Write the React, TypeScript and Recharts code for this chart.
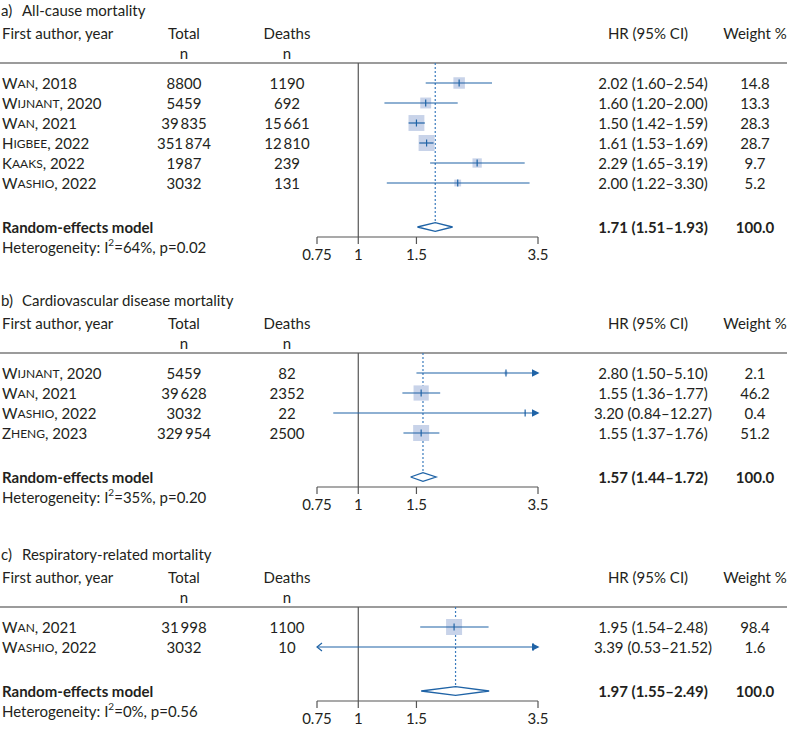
import React from 'react';
import { ComposedChart, XAxis, YAxis, Scatter, Line, ReferenceLine } from 'recharts';

const FONT = 'Lato, "Noto Sans", sans-serif';
const FS = 15;
const INK = '#231f20';
const BLUE = '#1f63a6';
const DOT_BLUE = '#3b7bbd';
const BOX = '#c8d3e9';
const GREY = '#555555';

const TICKS = [0.75, 1, 1.5, 3.5];
const X_MIN = 0.75;
const X_MAX = 3.5;

// a) All-cause mortality
const aAuthors = ['Wan', 'Wijnant', 'Wan', 'Higbee', 'Kaaks', 'Washio'];
const aYears = [2018, 2020, 2021, 2022, 2022, 2022];
const aTotal = [8800, 5459, 39835, 351874, 1987, 3032];
const aDeaths = [1190, 692, 15661, 12810, 239, 131];
const aHR = [2.02, 1.6, 1.5, 1.61, 2.29, 2.0];
const aLow = [1.6, 1.2, 1.42, 1.53, 1.65, 1.22];
const aHigh = [2.54, 2.0, 1.59, 1.69, 3.19, 3.3];
const aWeight = [14.8, 13.3, 28.3, 28.7, 9.7, 5.2];
const aPooled = [1.71, 1.51, 1.93];
const aHet = ['64', '0.02'];

// b) Cardiovascular disease mortality
const bAuthors = ['Wijnant', 'Wan', 'Washio', 'Zheng'];
const bYears = [2020, 2021, 2022, 2023];
const bTotal = [5459, 39628, 3032, 329954];
const bDeaths = [82, 2352, 22, 2500];
const bHR = [2.8, 1.55, 3.2, 1.55];
const bLow = [1.5, 1.36, 0.84, 1.37];
const bHigh = [5.1, 1.77, 12.27, 1.76];
const bWeight = [2.1, 46.2, 0.4, 51.2];
const bPooled = [1.57, 1.44, 1.72];
const bHet = ['35', '0.20'];

// c) Respiratory-related mortality
const cAuthors = ['Wan', 'Washio'];
const cYears = [2021, 2022];
const cTotal = [31998, 3032];
const cDeaths = [1100, 10];
const cHR = [1.95, 3.39];
const cLow = [1.54, 0.53];
const cHigh = [2.48, 21.52];
const cWeight = [98.4, 1.6];
const cPooled = [1.97, 1.55, 2.49];
const cHet = ['0', '0.56'];

const TOP = 63;
const ROW = 20;
const AXIS_H = 28;

const fmtN = (v: number) =>
  v >= 10000 ? `${Math.floor(v / 1000)}\u2009${String(v % 1000).padStart(3, '0')}` : String(v);
const fmtCI = (h: number, l: number, u: number) => `${h.toFixed(2)} (${l.toFixed(2)}–${u.toFixed(2)})`;

const COL = { author: 2, total: 184, deaths: 287, hr: 653, weight: 755 };

const TextRow = (props: any) => {
  const { cy, payload } = props;
  const a: string = payload.author;
  return (
    <g fontFamily={FONT} fontSize={FS} fill={INK}>
      <text x={COL.author} y={cy} dominantBaseline="central">
        {a[0]}
        <tspan fontSize={FS * 0.8}>{a.slice(1).toUpperCase()}</tspan>, {payload.year}
      </text>
      <text x={COL.total} y={cy} dominantBaseline="central" textAnchor="middle">{payload.total}</text>
      <text x={COL.deaths} y={cy} dominantBaseline="central" textAnchor="middle">{payload.death}</text>
      <text x={COL.hr} y={cy} dominantBaseline="central" textAnchor="middle">{payload.ci}</text>
      <text x={COL.weight} y={cy} dominantBaseline="central" textAnchor="middle">{payload.w}</text>
    </g>
  );
};

const PooledRow = (props: any) => {
  const { cy, payload } = props;
  return (
    <g fontFamily={FONT} fontSize={FS} fill={INK}>
      <text x={COL.author} y={cy} dominantBaseline="central" fontWeight="bold">Random-effects model</text>
      <text x={COL.hr} y={cy} dominantBaseline="central" textAnchor="middle" fontWeight="bold">{payload.ci}</text>
      <text x={COL.weight} y={cy} dominantBaseline="central" textAnchor="middle" fontWeight="bold">100.0</text>
      <text x={COL.author} y={cy + ROW} dominantBaseline="central">
        Heterogeneity: I<tspan fontSize={10} dy={-5}>2</tspan>
        <tspan dy={5}>={payload.i2}%, p={payload.p}</tspan>
      </text>
    </g>
  );
};

const BoxShape = (props: any) => {
  const { cx, cy, payload } = props;
  const s = payload.size;
  return <rect x={cx - s / 2} y={cy - s / 2} width={s} height={s} fill={BOX} />;
};

const TickShape = (props: any) => {
  const { cx, cy } = props;
  return <line x1={cx} x2={cx} y1={cy - 3.5} y2={cy + 3.5} stroke={BLUE} strokeWidth={1.2} />;
};

const NoShape = () => <g />;

const RightArrow = (props: any) => {
  const { cx, cy } = props;
  return <path d={`M${cx - 6},${cy - 3.8} L${cx + 1.5},${cy} L${cx - 6},${cy + 3.8} Z`} fill={BLUE} />;
};

const LeftArrow = (props: any) => {
  const { cx, cy } = props;
  return <path d={`M${cx + 5},${cy - 4} L${cx},${cy} L${cx + 5},${cy + 4}`} fill="none" stroke={BLUE} strokeWidth={1.2} />;
};

function Panel(props: any) {
  const { label, title, authors, years, totals, deaths, hr, low, high, weight, pooled, het } = props;
  const n = authors.length;
  const maxW = Math.max(...weight);
  const rows = authors.map((a: string, i: number) => ({
    x: hr[i],
    y: i,
    author: a,
    year: years[i],
    total: fmtN(totals[i]),
    death: fmtN(deaths[i]),
    ci: fmtCI(hr[i], low[i], high[i]),
    w: weight[i].toFixed(1),
    size: 16 * Math.sqrt(weight[i] / maxW),
  }));
  const reY = n + 1.2;
  const yMax = n + 1.7;
  const dh = 0.22;
  const height = TOP + (yMax + 1) * ROW + AXIS_H;
  const pooledRow = [{ x: pooled[0], y: reY, ci: fmtCI(pooled[0], pooled[1], pooled[2]), i2: het[0], p: het[1] }];
  const diamond = [
    { x: pooled[1], y: reY },
    { x: pooled[0], y: reY - dh },
    { x: pooled[2], y: reY },
    { x: pooled[0], y: reY + dh },
    { x: pooled[1], y: reY },
  ];
  const rightArrows = rows.filter((_: any, i: number) => high[i] > X_MAX).map((r: any) => ({ x: X_MAX, y: r.y }));
  const leftArrows = rows.filter((_: any, i: number) => low[i] < X_MIN).map((r: any) => ({ x: X_MIN, y: r.y }));

  return (
    <ComposedChart width={793} height={height} margin={{ top: TOP, right: 255, bottom: 0, left: 317 }}>
      <XAxis
        type="number"
        dataKey="x"
        scale="log"
        domain={[X_MIN, X_MAX]}
        ticks={TICKS}
        height={AXIS_H}
        tickSize={7}
        tickMargin={5}
        axisLine={{ stroke: GREY, strokeWidth: 1.2 }}
        tickLine={{ stroke: GREY, strokeWidth: 1.2 }}
        tick={{ fill: INK, fontSize: FS, fontFamily: FONT }}
      />
      <YAxis type="number" dataKey="y" domain={[-1, yMax]} reversed hide />

      <text x={1} y={TOP - 53} dominantBaseline="central" fontFamily={FONT} fontSize={FS} fill={INK}>
        {label}
        <tspan x={22}>{title}</tspan>
      </text>
      <g fontFamily={FONT} fontSize={FS} fill={INK}>
        <text x={COL.author} y={TOP - 30} dominantBaseline="central">First author, year</text>
        <text x={COL.total} y={TOP - 30} dominantBaseline="central" textAnchor="middle">Total</text>
        <text x={COL.deaths} y={TOP - 30} dominantBaseline="central" textAnchor="middle">Deaths</text>
        <text x={COL.hr - 5} y={TOP - 30} dominantBaseline="central" textAnchor="middle">HR (95% CI)</text>
        <text x={COL.weight} y={TOP - 30} dominantBaseline="central" textAnchor="middle">Weight %</text>
        <text x={COL.total} y={TOP - 10} dominantBaseline="central" textAnchor="middle">n</text>
        <text x={COL.deaths} y={TOP - 10} dominantBaseline="central" textAnchor="middle">n</text>
      </g>
      <line x1={0} x2={787} y1={TOP} y2={TOP} stroke="#7a7a7a" strokeWidth={1.5} />

      <ReferenceLine x={1} stroke={GREY} strokeWidth={1.2} />
      <ReferenceLine
        segment={[{ x: pooled[0], y: -1 }, { x: pooled[0], y: reY - dh }]}
        stroke={DOT_BLUE}
        strokeWidth={1.2}
        strokeDasharray="2 2"
      />

      <Scatter data={rows} shape={BoxShape} isAnimationActive={false} />
      {rows.map((r: any, i: number) => (
        <Scatter
          key={`ci-${i}`}
          data={[
            { x: Math.max(low[i], X_MIN), y: r.y },
            { x: Math.min(high[i], X_MAX), y: r.y },
          ]}
          line={{ stroke: BLUE, strokeWidth: 1.2 }}
          shape={NoShape}
          isAnimationActive={false}
        />
      ))}
      <Scatter data={rows} shape={TickShape} isAnimationActive={false} />
      <Scatter data={rightArrows} shape={RightArrow} isAnimationActive={false} />
      <Scatter data={leftArrows} shape={LeftArrow} isAnimationActive={false} />
      <Line data={diamond} dataKey="y" type="linear" stroke={BLUE} strokeWidth={1.3} dot={false} isAnimationActive={false} />

      <Scatter data={rows} shape={TextRow} isAnimationActive={false} />
      <Scatter data={pooledRow} shape={PooledRow} isAnimationActive={false} />
    </ComposedChart>
  );
}

export default function App() {
  return (
    <div style={{ position: 'absolute', left: 0, top: 0, width: 793, height: 729, background: '#fff' }}>
      <div style={{ position: 'absolute', left: 0, top: 0 }}>
        <Panel label="a)" title="All-cause mortality" authors={aAuthors} years={aYears} totals={aTotal}
          deaths={aDeaths} hr={aHR} low={aLow} high={aHigh} weight={aWeight} pooled={aPooled} het={aHet} />
      </div>
      <div style={{ position: 'absolute', left: 0, top: 290 }}>
        <Panel label="b)" title="Cardiovascular disease  mortality" authors={bAuthors} years={bYears} totals={bTotal}
          deaths={bDeaths} hr={bHR} low={bLow} high={bHigh} weight={bWeight} pooled={bPooled} het={bHet} />
      </div>
      <div style={{ position: 'absolute', left: 0, top: 544 }}>
        <Panel label="c)" title="Respiratory-related mortality" authors={cAuthors} years={cYears} totals={cTotal}
          deaths={cDeaths} hr={cHR} low={cLow} high={cHigh} weight={cWeight} pooled={cPooled} het={cHet} />
      </div>
    </div>
  );
}
